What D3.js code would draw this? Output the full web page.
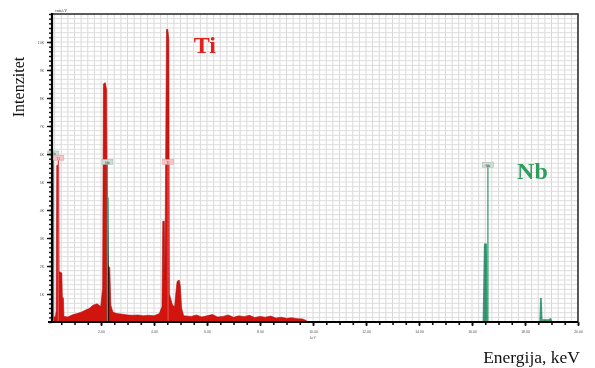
<!DOCTYPE html>
<html>
<head>
<meta charset="utf-8">
<script src="https://cdn.jsdelivr.net/npm/d3@7"></script>
<style>
  html, body { margin: 0; padding: 0; background: #ffffff; }
  svg { display: block; }
</style>
</head>
<body>
<svg id="chart" width="595" height="368"></svg>
<script>
// ---- data (energy in keV, intensity in thousands of counts) ----
const xTickValues = [2, 4, 6, 8, 10, 12, 14, 16, 18, 20];
const xTickLabels = ["2.00", "4.00", "6.00", "8.00", "10.00", "12.00", "14.00", "16.00", "18.00", "20.00"];
const yTickValues = [1, 2, 3, 4, 5, 6, 7, 8, 9, 10];
const yTickLabels = ["1K", "2K", "3K", "4K", "5K", "6K", "7K", "8K", "9K", "10K"];

const tiSpectrum = [
  [0.15, 0.15], [0.28, 0.2], [0.31, 0.4], [0.33, 5.6], [0.40, 5.6], [0.42, 1.8],
  [0.52, 1.75], [0.54, 0.9], [0.58, 0.85], [0.60, 0.2], [0.75, 0.18], [0.90, 0.25],
  [1.10, 0.3], [1.25, 0.35], [1.40, 0.42], [1.55, 0.48], [1.70, 0.6], [1.85, 0.65],
  [1.99, 0.55], [2.06, 1.2], [2.09, 8.5], [2.16, 8.55], [2.21, 8.3], [2.23, 4.5],
  [2.27, 2.0], [2.33, 1.95], [2.37, 0.6], [2.45, 0.35], [2.6, 0.3], [2.8, 0.28],
  [3.0, 0.25], [3.2, 0.24], [3.4, 0.25], [3.6, 0.22], [3.8, 0.24], [4.0, 0.22],
  [4.2, 0.3], [4.30, 0.55], [4.33, 3.6], [4.39, 3.6], [4.41, 1.5], [4.47, 10.45],
  [4.52, 10.45], [4.56, 10.1], [4.58, 1.0], [4.70, 0.6], [4.78, 0.55], [4.82, 1.0],
  [4.87, 1.45], [4.95, 1.5], [4.99, 1.3], [5.04, 0.5], [5.12, 0.22], [5.4, 0.2],
  [5.6, 0.25], [5.8, 0.18], [6.0, 0.22], [6.2, 0.27], [6.4, 0.18], [6.6, 0.2],
  [6.8, 0.25], [7.0, 0.17], [7.2, 0.22], [7.4, 0.19], [7.6, 0.24], [7.8, 0.16],
  [8.0, 0.2], [8.2, 0.17], [8.4, 0.21], [8.6, 0.14], [8.8, 0.17], [9.0, 0.13],
  [9.2, 0.15], [9.4, 0.12], [9.6, 0.11], [9.75, 0.05], [9.8, 0.0]
];

const nbSpectrum = [
  [2.22, 0], [2.24, 4.45], [2.29, 4.45], [2.31, 0],
  [16.40, 0], [16.45, 2.8], [16.56, 2.8], [16.60, 0],
  [18.54, 0], [18.57, 0.86], [18.63, 0.86], [18.66, 0.1], [18.9, 0.1],
  [18.96, 0.15], [19.0, 0.1], [19.05, 0]
];

const markerEnergies = [0.20, 0.39, 2.24, 4.53, 16.60];
const markerElements = ["Nb", "Ti", "Nb", "Ti", "Nb"];
const markerHeights = [6.0, 5.85, 5.7, 5.7, 5.6];

const elementLabels = ["Ti", "Nb"];
const elementLabelPos = [[5.5, 9.6], [17.7, 5.1]]; // keV, intensity (annotation anchors)

// ---- layout ----
const svg = d3.select("#chart");
const mLeft = 52, mRight = 578, mTop = 14, mBottom = 322;
const x = d3.scaleLinear().domain([0.15, 20]).range([mLeft, mRight]);
const y = d3.scaleLinear().domain([0, 11]).range([mBottom, mTop]);

const red = "#d2140f";
const green = "#3a9e78";
const colorOf = el => el === "Ti" ? "#e8454a" : green;

// grid
const g = svg.append("g");
const vGrid = d3.range(0.25, 20.001, 0.25);
g.selectAll("line.vg").data(vGrid).enter().append("line")
  .attr("x1", d => x(d)).attr("x2", d => x(d))
  .attr("y1", mTop).attr("y2", mBottom)
  .attr("stroke", "#d9d9d9").attr("stroke-width", 1);
const hGrid = d3.range(1, 66).map(i => i / 6);
g.selectAll("line.hg").data(hGrid).enter().append("line")
  .attr("x1", mLeft).attr("x2", mRight)
  .attr("y1", d => y(d)).attr("y2", d => y(d))
  .attr("stroke", "#dedede").attr("stroke-width", 1);

// spectra
const area = d3.area().x(d => x(d[0])).y0(y(0)).y1(d => y(d[1]));
svg.append("path").datum(tiSpectrum).attr("d", area)
  .attr("fill", red).attr("stroke", "#b00c0a").attr("stroke-width", 0.6);
svg.append("path").datum(nbSpectrum).attr("d", area)
  .attr("fill", green).attr("style", "mix-blend-mode:multiply");

// marker lines
const markers = markerEnergies.map((e, i) => ({ e, el: markerElements[i], h: markerHeights[i] }));
svg.selectAll("line.mk").data(markers).enter().append("line")
  .attr("x1", d => x(d.e)).attr("x2", d => x(d.e))
  .attr("y1", d => y(d.h)).attr("y2", mBottom)
  .attr("stroke", d => colorOf(d.el)).attr("stroke-width", 1.3);
const mg = svg.selectAll("g.mb").data(markers).enter().append("g")
  .attr("transform", d => `translate(${x(d.e)},${y(d.h)})`);
mg.append("rect").attr("x", -5.5).attr("y", -3).attr("width", 11).attr("height", 5)
  .attr("fill", d => d.el === "Ti" ? "#f5c4c4" : "#cfdcd4")
  .attr("stroke", d => d.el === "Ti" ? "#e89a9a" : "#9fb8aa").attr("stroke-width", 0.5);
mg.append("text").attr("text-anchor", "middle").attr("y", 1.3)
  .attr("font-size", 3.6).attr("font-family", "DejaVu Sans")
  .attr("fill", d => d.el === "Ti" ? "#c02020" : "#225544").text(d => d.el);

// axes
const yAxisMinor = d3.axisLeft(y).tickValues(d3.range(0, 67).map(i => i / 6)).tickSize(3).tickFormat("");
svg.append("g").attr("transform", `translate(${mLeft},0)`).call(yAxisMinor)
  .call(s => s.select(".domain").remove())
  .selectAll("line").attr("stroke", "#111").attr("stroke-width", 1.4);
const yAxis = d3.axisLeft(y).tickValues(yTickValues).tickSize(5)
  .tickFormat((d, i) => yTickLabels[i]);
svg.append("g").attr("transform", `translate(${mLeft},0)`).call(yAxis)
  .call(s => s.select(".domain").remove())
  .call(s => s.selectAll("line").attr("stroke", "#111").attr("stroke-width", 1.4))
  .call(s => s.selectAll("text").attr("font-size", 3.5).attr("fill", "#555").attr("x", -8));

const xAxisMinor = d3.axisBottom(x).tickValues(d3.range(0.5, 20.01, 0.5)).tickSize(3).tickFormat("");
svg.append("g").attr("transform", `translate(0,${mBottom})`).call(xAxisMinor)
  .call(s => s.select(".domain").remove())
  .selectAll("line").attr("stroke", "#111").attr("stroke-width", 1.6);
const xAxis = d3.axisBottom(x).tickValues(xTickValues).tickSize(4)
  .tickFormat((d, i) => xTickLabels[i]);
svg.append("g").attr("transform", `translate(0,${mBottom})`).call(xAxis)
  .call(s => s.select(".domain").remove())
  .call(s => s.selectAll("line").attr("stroke", "#111").attr("stroke-width", 1.6))
  .call(s => s.selectAll("text").attr("font-size", 3.5).attr("fill", "#555").attr("y", 9));
svg.append("text").attr("x", x(10)).attr("y", mBottom + 17).attr("text-anchor", "middle")
  .attr("font-size", 3.5).attr("fill", "#555").text("keV");

// frame
svg.append("rect").attr("x", mLeft).attr("y", mTop).attr("width", mRight - mLeft).attr("height", mBottom - mTop)
  .attr("fill", "none").attr("stroke", "#333").attr("stroke-width", 1.6);
svg.append("line").attr("x1", mLeft).attr("x2", mLeft).attr("y1", mTop - 1).attr("y2", mBottom + 1)
  .attr("stroke", "#000").attr("stroke-width", 2.2);
svg.append("line").attr("x1", mLeft - 4).attr("x2", mRight).attr("y1", mBottom).attr("y2", mBottom)
  .attr("stroke", "#000").attr("stroke-width", 2);
svg.append("text").attr("x", mLeft + 3).attr("y", mTop - 2)
  .attr("font-size", 4).attr("fill", "#333").text("cnts/eV");

// element labels
elementLabels.forEach((t, i) => {
  svg.append("text").attr("x", x(elementLabelPos[i][0])).attr("y", y(elementLabelPos[i][1]))
    .attr("font-family", "Liberation Serif").attr("font-weight", "bold").attr("font-size", 24)
    .attr("fill", t === "Ti" ? "#e0201c" : "#2f9e5c").text(t);
});

// axis titles
svg.append("text").attr("transform", "translate(24,87) rotate(-90)")
  .attr("text-anchor", "middle").attr("font-family", "Liberation Serif").attr("font-size", 16)
  .attr("fill", "#111").text("Intenzitet");
svg.append("text").attr("x", 580).attr("y", 363).attr("text-anchor", "end")
  .attr("font-family", "Liberation Serif").attr("font-size", 17.5)
  .attr("fill", "#111").text("Energija, keV");
</script>
</body>
</html>
